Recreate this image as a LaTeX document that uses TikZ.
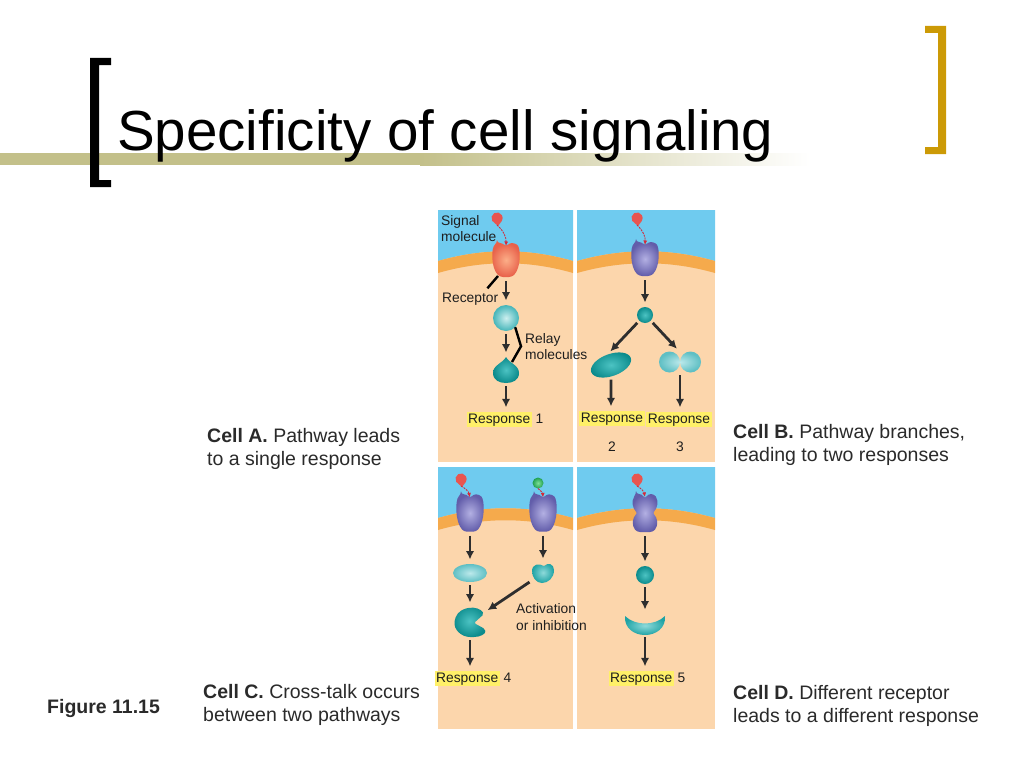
\documentclass[tikz,border=0pt]{standalone}
\usepackage{fontspec}
\setmainfont{Liberation Sans}
\usepackage{tikz}
\usetikzlibrary{arrows.meta,shapes.geometric,positioning}

\definecolor{sky}{HTML}{6FCBEF}
\definecolor{cytosol}{HTML}{FCD6AC}
\definecolor{membrane}{HTML}{F5AA4C}
\definecolor{hlyellow}{HTML}{FFF068}
\definecolor{bandolive}{HTML}{C3C08A}
\definecolor{bracketgold}{HTML}{CC9A06}
\definecolor{arrowgray}{HTML}{2E2E2E}
\definecolor{labelgray}{HTML}{1E1E1E}
\definecolor{notegray}{HTML}{2A2A2A}
\definecolor{sigred}{HTML}{E8554F}
\definecolor{sigarrow}{HTML}{D42A3A}
\definecolor{siggreenL}{HTML}{7FE09A}
\definecolor{siggreenD}{HTML}{20A050}
\definecolor{tealsL}{HTML}{CDEFEF}
\definecolor{tealsD}{HTML}{45B5B9}
\definecolor{tealdL}{HTML}{4CC3C3}
\definecolor{tealdD}{HTML}{0C8B8C}
\definecolor{tealbL}{HTML}{8EDADA}
\definecolor{tealbD}{HTML}{1FA3A5}
\definecolor{teallL}{HTML}{BCE9EB}
\definecolor{teallD}{HTML}{5FBFC4}
\definecolor{recpurpleL}{HTML}{B3B0E3}
\definecolor{recpurpleD}{HTML}{625DAA}
\definecolor{recsalmonL}{HTML}{FCAE88}
\definecolor{recsalmonD}{HTML}{E8614A}

% yellow marker behind a word
\newcommand{\hl}[1]{{\setlength{\fboxsep}{1.5pt}\colorbox{hlyellow}{#1}}}
% one cell: x0, y0, width, height
\newcommand{\cellpanel}[4]{%
  \fill[cytosol] (#1,#2) rectangle ++(#3,#4);
  \fill[sky] (#1,#2) -- (#1,#2+51) .. controls ({#1+#3/3},#2+38) and ({#1+2*#3/3},#2+38) .. ({#1+#3},#2+51) -- ({#1+#3},#2) -- cycle;
  \fill[membrane] (#1,#2+51) .. controls ({#1+#3/3},#2+38) and ({#1+2*#3/3},#2+38) .. ({#1+#3},#2+51)
    -- ({#1+#3},#2+63) .. controls ({#1+2*#3/3},#2+50) and ({#1+#3/3},#2+50) .. (#1,#2+63) -- cycle;
}

\tikzset{
  pics/receptor/.style={code={
    \shade[inner color=#1L, outer color=#1D, rounded corners=3pt] (-9,-17) -- (-3,-17) -- (0,-13) -- (3,-17) -- (9,-17)
      .. controls (15,-12) and (15,8) .. (6,17) -- (-6,17) .. controls (-15,8) and (-15,-12) .. (-9,-17) -- cycle;}},
  pics/dumbbell/.style={code={
    \shade[inner color=#1L, outer color=#1D, rounded corners=3pt] (-9,-19) -- (-3,-19) -- (0,-14) -- (3,-19) -- (9,-19)
      .. controls (14,-12) and (12,-4) .. (7,0) .. controls (12,4) and (14,12) .. (8,19) -- (-8,19)
      .. controls (-14,12) and (-12,4) .. (-7,0) .. controls (-12,-4) and (-14,-12) .. (-9,-19) -- cycle;}},
  pics/signal/.style={code={
    \fill[#1] (1,7) -- (-4.8,1.8) arc[start angle=150, end angle=390, radius=5.6] -- cycle;}},
  pics/drop/.style={code={
    \shade[inner color=#1L, outer color=#1D] (0,-13) .. controls (3,-7) and (13,-5) .. (13,3)
      .. controls (13,10) and (7,13) .. (0,13) .. controls (-7,13) and (-13,10) .. (-13,3)
      .. controls (-13,-5) and (-3,-7) .. (0,-13) -- cycle;}},
  pics/peanut/.style={code={
    \shade[inner color=#1L, outer color=#1D] (-10.5,0) circle (10.5) (10.5,0) circle (10.5);}},
  pics/kidney/.style={code={
    \shade[inner color=#1L, outer color=#1D, rounded corners=2pt] (14,-8) .. controls (8,-17) and (-10,-16) .. (-15,-3)
      .. controls (-17,8) and (-8,15) .. (2,15) .. controls (10,15) and (16,12) .. (15,7) -- (4,1) -- cycle;}},
  pics/blob/.style={code={
    \shade[inner color=#1L, outer color=#1D] (1,-7) .. controls (5,-11) and (11,-9) .. (11,-3)
      .. controls (11,5) and (5,10) .. (-1,10) .. controls (-7,10) and (-11,4) .. (-11,-2)
      .. controls (-11,-9) and (-4,-10) .. (1,-7) -- cycle;}},
  pics/crescent/.style={code={
    \shade[inner color=#1L, outer color=#1D] (-20,-8) .. controls (-10,2) and (10,2) .. (20,-8)
      .. controls (21,4) and (11,11) .. (0,11) .. controls (-11,11) and (-21,4) .. (-20,-8) -- cycle;}}
}

\begin{document}
\begin{tikzpicture}[x=1pt, y=-1pt,
  slot/.style 2 args={minimum width=#1, minimum height=#2, inner sep=0, outer sep=0},
  flow/.style={draw=arrowgray, line width=2.8pt, -{Latex[length=8.5pt,width=8.5pt]}, shorten <=3pt, shorten >=4.5pt},
  sig/.style={draw=sigarrow, line width=0.9pt, dash pattern=on 2pt off 1pt, -{Latex[length=4.5pt,width=4pt]}},
  lead/.style={draw=black, line width=2.4pt},
  lbl/.style={font=\fontsize{13.8}{16}\selectfont, text=labelgray, inner sep=0},
  note/.style={font=\fontsize{19.5}{23}\selectfont, text=notegray, inner sep=0}]
  \useasboundingbox (0,0) rectangle (1024,768);

  % title bar with brackets
  \fill[bandolive] (0,153) rectangle (420,165);
  \shade[left color=bandolive, right color=white] (420,153) rectangle (810,165);
  \fill (111,58) -- (90,58) -- (90,187) -- (111,187) -- (111,180) -- (99,180) -- (99,65) -- (111,65) -- cycle;
  \fill[bracketgold] (925,26) -- (946,26) -- (946,154) -- (925,154) -- (925,147) -- (938,147) -- (938,33) -- (925,33) -- cycle;
  \node[anchor=base west, inner sep=0, font=\fontsize{56.5}{60}\selectfont] (title) at (117,150) {Specificity of cell signaling};

  % the four cells
  \cellpanel{438}{210}{135}{252}
  \cellpanel{577}{210}{138}{252}
  \cellpanel{438}{467}{135}{262}
  \cellpanel{577}{467}{138}{262}

  % Cell A: one pathway
  \node[slot={10}{12}] (sigA) at (497,219) {};
  \pic at (sigA) {signal=sigred};
  \node[slot={26}{36}] (recA) at (506,260) {};
  \pic at (recA) {receptor=recsalmon};
  \node[circle, slot={26}{26}, inner color=tealsL, outer color=tealsD] (relA1) at (506,318) {};
  \node[slot={26}{26}] (relA2) at (506,370) {};
  \pic at (relA2) {drop=teald};
  \node[lbl, anchor=base] (respA) at (505,423) {\hl{Response} 1};
  \node[lbl, anchor=north west, align=left] (sigL) at (441,215) {Signal\\molecule};
  \node[lbl, anchor=base west] (recL) at (442,302) {Receptor};
  \node[lbl, anchor=north west, align=left] (relL) at (525,333) {Relay\\molecules};
  \draw[sig] (sigA.south) to[bend left=25] ([yshift=-4pt]recA.north);
  \draw[flow] (recA) -- (relA1);
  \draw[flow] (relA1) -- (relA2);
  \draw[flow] (relA2) -- (relA2 |- respA.north);
  \draw[lead] ([xshift=5pt,yshift=2pt]recA.south west) -- ([xshift=-11pt,yshift=4pt]recL.north east);
  \draw[lead] (relA1.south east) -- ([xshift=-4pt]relL.west) -- ([xshift=-7pt,yshift=-5pt]relA2.north east);

  % Cell B: branching
  \node[slot={10}{12}] (sigB) at (637,219) {};
  \pic at (sigB) {signal=sigred};
  \node[slot={26}{36}] (recB) at (645,259) {};
  \pic at (recB) {receptor=recpurple};
  \node[circle, slot={16}{16}, inner color=tealdL, outer color=tealdD] (relB1) at (645,315) {};
  \node[ellipse, slot={42}{22}, inner color=tealdL, outer color=tealdD, rotate=20] (relB2) at (611,365) {};
  \node[slot={43}{20}] (relB3) at (680,362) {};
  \pic at (relB3) {peanut=teall};
  \node[lbl, anchor=base] (respB2) at (612,422) {\hl{Response}};
  \node[lbl, anchor=base] (numB2) at (612,451) {2};
  \node[lbl, anchor=base] (respB3) at (679,423) {\hl{Response}};
  \node[lbl, anchor=base] (numB3) at (680,451) {3};
  \draw[sig] (sigB.south) to[bend left=25] ([yshift=-4pt]recB.north);
  \draw[flow] (recB) -- (relB1);
  \draw[flow] (relB1.south west) -- (relB2.north);
  \draw[flow] (relB1.south east) -- (relB3.north);
  \draw[flow] (relB2) -- (relB2 |- respB2.north);
  \draw[flow] (relB3) -- (relB3 |- respB3.north);

  % Cell C: cross-talk
  \node[slot={10}{12}] (sigC1) at (461,480) {};
  \pic at (sigC1) {signal=sigred};
  \node[circle, slot={11}{11}, inner color=siggreenL, outer color=siggreenD] (sigC2) at (538,483) {};
  \node[slot={26}{39}] (recC1) at (470,513) {};
  \pic[yscale=1.1] at (recC1) {receptor=recpurple};
  \node[slot={26}{39}] (recC2) at (543,513) {};
  \pic[yscale=1.1] at (recC2) {receptor=recpurple};
  \node[ellipse, slot={34}{18}, inner color=teallL, outer color=teallD] (relC1) at (470,573) {};
  \node[slot={22}{20}] (relC3) at (543,573) {};
  \pic at (relC3) {blob=tealb};
  \node[slot={32}{30}] (relC2) at (470,622) {};
  \pic at (relC2) {kidney=teald};
  \node[lbl, anchor=base] (respC) at (473,682) {\hl{Response} 4};
  \node[lbl, anchor=north west, align=left, font=\fontsize{13.8}{17}\selectfont] (actL) at (516,603) {Activation\\or inhibition};
  \draw[sig] (sigC1.south) to[bend left=25] ([yshift=-4pt]recC1.north);
  \draw[sig] (sigC2.south) to[bend left=25] ([yshift=-4pt]recC2.north);
  \draw[flow] (recC1) -- (relC1);
  \draw[flow] (relC1) -- (relC2);
  \draw[flow] (relC2) -- (relC2 |- respC.north);
  \draw[flow] (recC2) -- (relC3);
  \draw[flow, shorten >=2pt] (relC3) -- (relC2);

  % Cell D: other receptor
  \node[slot={10}{12}] (sigD) at (637,480) {};
  \pic at (sigD) {signal=sigred};
  \node[slot={24}{40}] (recD) at (645,513) {};
  \pic at (recD) {dumbbell=recpurple};
  \node[circle, slot={18}{18}, inner color=tealdL, outer color=tealdD] (relD1) at (645,575) {};
  \node[slot={40}{20}] (relD2) at (645,624) {};
  \pic at (relD2) {crescent=tealb};
  \node[lbl, anchor=base] (respD) at (647,682) {\hl{Response} 5};
  \draw[sig] (sigD.south) to[bend left=25] ([yshift=-4pt]recD.north);
  \draw[flow] (recD) -- (relD1);
  \draw[flow] (relD1) -- (relD2);
  \draw[flow] (relD2) -- (relD2 |- respD.north);

  % captions
  \node[note, anchor=north west, align=left] (cellA) at (207,427.8) {\textbf{Cell A.} Pathway leads\\to a single response};
  \node[note, anchor=north west, align=left] (cellB) at (733,423.8) {\textbf{Cell B.} Pathway branches,\\leading to two responses};
  \node[note, anchor=north west, align=left] (cellC) at (203,683.8) {\textbf{Cell C.} Cross-talk occurs\\between two pathways};
  \node[note, anchor=north west, align=left] (cellD) at (733,684.8) {\textbf{Cell D.} Different receptor\\leads to a different response};
  \node[note, anchor=base west] (fig) at (47,713) {\textbf{Figure 11.15}};
\end{tikzpicture}
\end{document}
